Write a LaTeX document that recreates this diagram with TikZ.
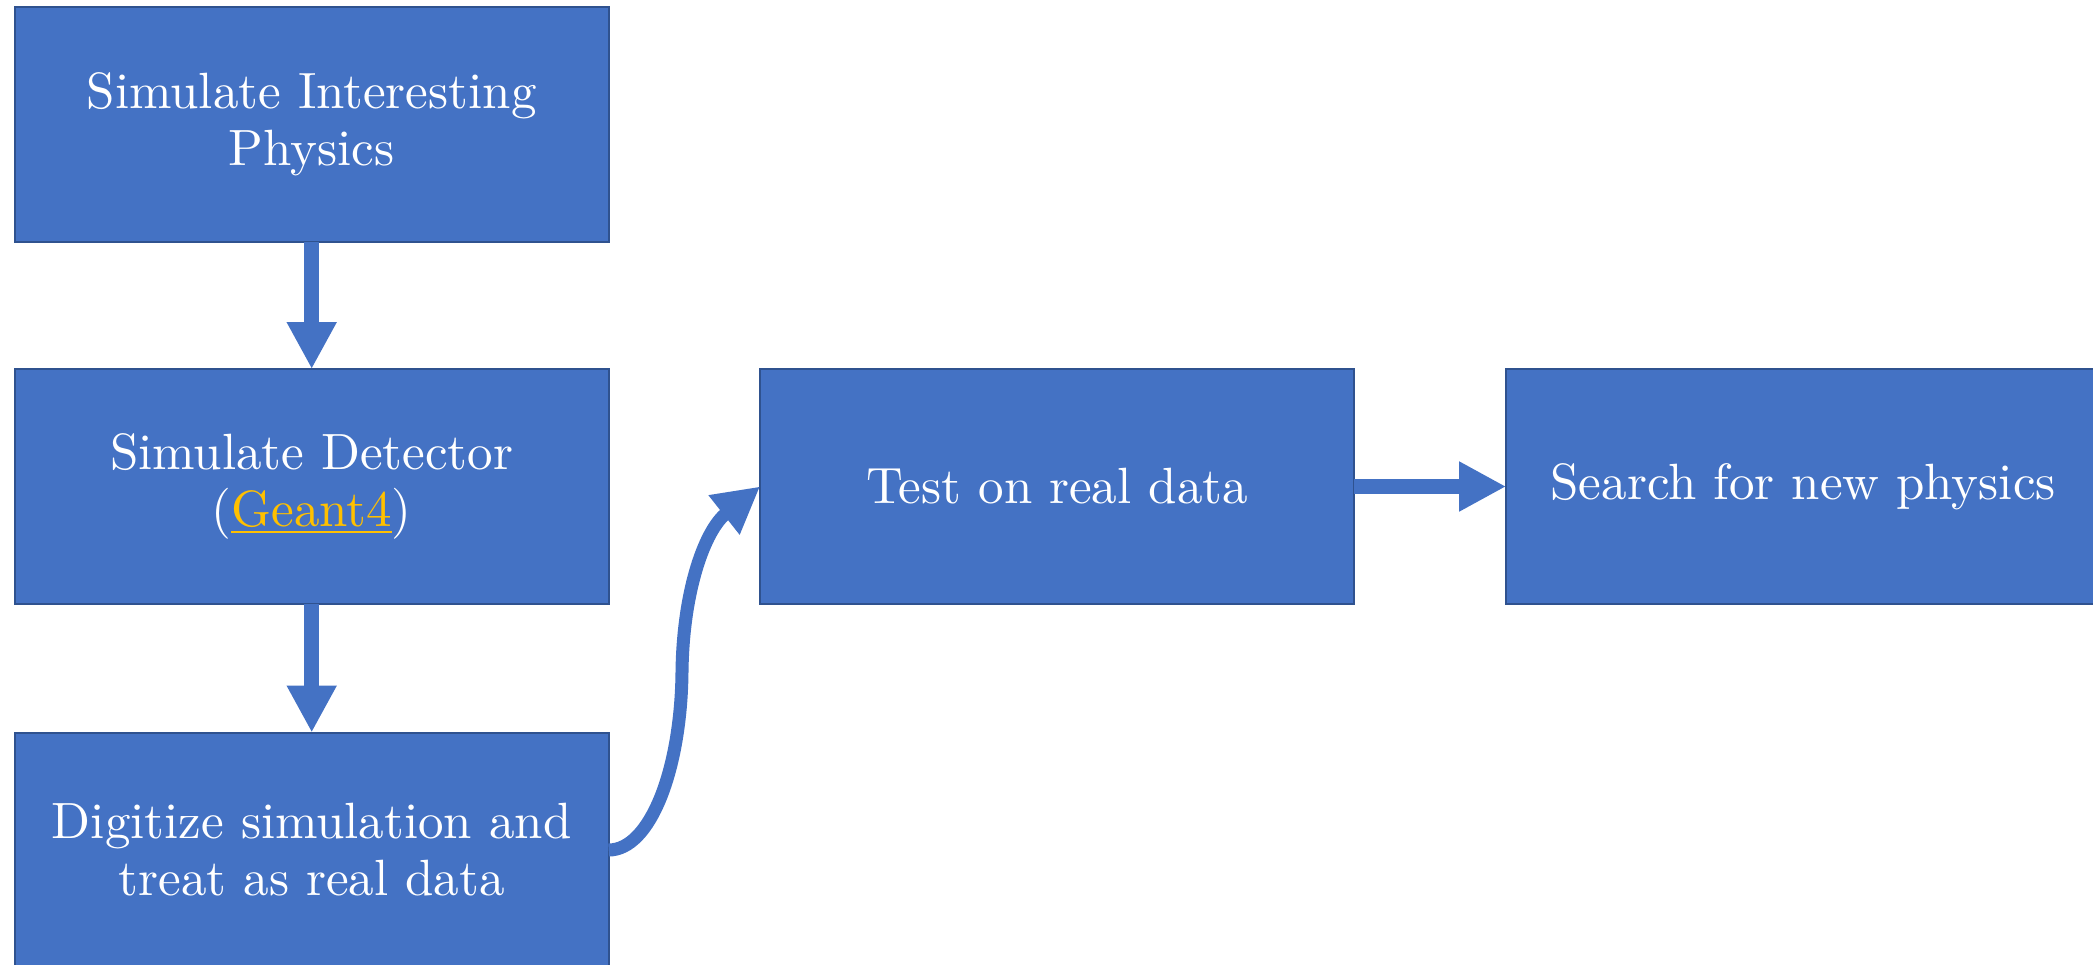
\documentclass[tikz,border=0pt]{standalone}
\usetikzlibrary{arrows.meta}
\definecolor{boxblue}{HTML}{4472C4}
\definecolor{boxedge}{HTML}{2F528F}
\definecolor{linkgold}{HTML}{FFC000}
% Latin Modern 10pt design, enlarged for the box labels
\font\boxfont="[lmroman10-regular]:mapping=tex-text" at 25.5pt
% gold hyperlink-style text with a gold underline
\newcommand\goldlink[1]{{\color{linkgold}\setbox0\hbox{#1}\rlap{\rule[-3pt]{\wd0}{1pt}}\box0}}
\begin{document}
\begin{tikzpicture}[x=0.5pt,y=-0.5pt,
  stepbox/.style={draw=boxedge, line width=1pt, fill=boxblue, text=white,
    minimum width=297pt, minimum height=117.5pt, inner sep=0pt, outer sep=0pt,
    align=center, font=\fontsize{25.5}{28.5}\selectfont\boxfont},
  flow/.style={draw=boxblue, line width=7.5pt,
    -{Triangle[width=23.5pt,length=23.5pt]}},
  bendflow/.style={draw=boxblue, line width=6.5pt,
    -{Triangle[width=23.5pt,length=23pt]}}]
\useasboundingbox (0,0) rectangle (2093,964);

% process boxes
\node[stepbox] (phys) at (311.7,124.2) {Simulate Interesting\\Physics};
\node[stepbox] (det)  at (311.7,486.5) {Simulate Detector\\(\goldlink{Geant4})};
\node[stepbox] (digi) at (311.7,850.0) {Digitize simulation and\\treat as real data};
\node[stepbox] (test) at (1057.1,486.5) {Test on real data};
\node[stepbox] (search) at (1803.1,486.5) {Search for new physics};

% straight connectors
\draw[flow] (phys.south) -- (det.north);
\draw[flow] (det.south) -- (digi.north);
\draw[flow] (test.east) -- (search.west);

% S-shaped connector from the digitized data to the test box
\coordinate (mid) at (682,672);
\draw[bendflow] (digi.east) .. controls (650,850) and (681,770) .. (mid)
  .. controls (683,590) and (705,530) .. (test.west);
\end{tikzpicture}
\end{document}
